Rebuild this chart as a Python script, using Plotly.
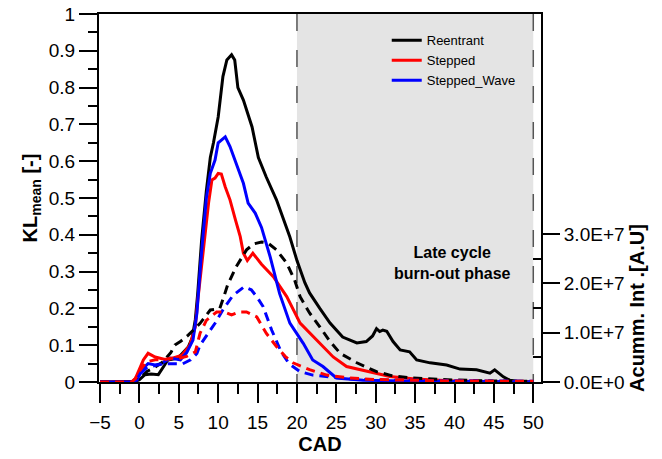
import plotly.graph_objects as go

# ---------------- data ----------------
# Solid lines: KL_mean [-] (left axis)
x_reentrant = [-5, -1, -0.5, 0, 0.7, 1.5, 2.4, 3.2, 3.6, 4.9, 5.5, 6.2, 6.7, 7.1, 7.4, 7.9, 8.5, 9.0, 9.4,
               10.0, 10.6, 11.1, 11.7, 12.1, 12.5, 13.2, 14.3, 15.1, 16.1, 17.4, 19.1, 20.0, 21.0, 21.6,
               22.9, 24.2, 25.8, 27.6, 28.8, 29.6, 30.1, 30.5, 30.9, 31.4, 32.2, 33.1, 34.3, 35.2, 36.9,
               39.0, 40.7, 42.8, 44.5, 45.1, 46.2, 47.0, 48.0, 50.0]
y_reentrant = [0, 0, 0.002, 0.006, 0.02, 0.022, 0.02, 0.046, 0.06, 0.065, 0.08, 0.095, 0.12, 0.17, 0.24,
               0.386, 0.52, 0.61, 0.65, 0.72, 0.83, 0.875, 0.889, 0.875, 0.80, 0.766, 0.693, 0.61, 0.557,
               0.495, 0.394, 0.33, 0.27, 0.242, 0.20, 0.16, 0.122, 0.106, 0.11, 0.125, 0.145, 0.137, 0.141,
               0.138, 0.11, 0.087, 0.082, 0.06, 0.052, 0.046, 0.035, 0.033, 0.024, 0.033, 0.014, 0.005,
               0.002, 0]

x_stepped = [-5, -1, -0.5, 0, 0.5, 1.1, 2.0, 3.5, 4.3, 5.4, 6.4, 7.1, 7.4, 7.9, 8.3, 8.8, 9.2, 9.6, 10.0,
             10.4, 10.9, 11.5, 12.2, 12.8, 13.2, 13.7, 14.4, 15.5, 17.0, 18.7, 20.4, 22.5, 24.6, 26.3,
             29.3, 31.8, 35.0, 40.0, 45.0, 50.0]
y_stepped = [0, 0, 0.01, 0.035, 0.06, 0.078, 0.068, 0.06, 0.065, 0.073, 0.10, 0.15, 0.22, 0.32, 0.386,
             0.49, 0.549, 0.554, 0.567, 0.565, 0.53, 0.495, 0.44, 0.395, 0.35, 0.33, 0.35, 0.32, 0.286,
             0.232, 0.16, 0.114, 0.068, 0.042, 0.028, 0.015, 0.008, 0.003, 0.001, 0]

x_wave = [-5, -1, -0.35, 0, 0.5, 1.1, 2.0, 2.8, 3.9, 5.2, 6.0, 6.8, 7.3, 7.8, 8.5, 9.0, 9.6, 10.0, 10.9,
          11.5, 12.3, 13.2, 13.8, 14.7, 15.5, 16.6, 17.8, 19.1, 20.8, 22.0, 23.3, 25.0, 28.4, 35.0, 50.0]
y_wave = [0, 0, 0.005, 0.02, 0.038, 0.05, 0.046, 0.05, 0.065, 0.06, 0.08, 0.114, 0.187, 0.33, 0.50,
          0.567, 0.603, 0.65, 0.666, 0.64, 0.595, 0.54, 0.486, 0.459, 0.42, 0.34, 0.24, 0.16, 0.105,
          0.06, 0.042, 0.011, 0.005, 0.002, 0]

# Dashed lines: accumulated intensity [A.U] (right axis)
x_acc_reentrant = [-5, -1, -0.5, 0, 1, 2, 3, 4, 4.5, 5.2, 6.2, 7.7, 9.0, 10.2, 10.7, 11.2, 12.3, 13.6,
                   14.5, 15.5, 16.3, 17.4, 18.7, 19.7, 20.4, 21.6, 22.9, 24.2, 25.5, 27.6, 30.1, 32.0,
                   34.7, 40.0, 45.0, 50.0]
y_acc_reentrant = [0, 0, 0.02e7, 0.07e7, 0.22e7, 0.30e7, 0.41e7, 0.60e7, 0.75e7, 0.82e7, 0.95e7, 1.19e7,
                   1.46e7, 1.49e7, 1.72e7, 1.97e7, 2.34e7, 2.68e7, 2.80e7, 2.84e7, 2.82e7, 2.68e7, 2.41e7,
                   2.07e7, 1.73e7, 1.40e7, 1.12e7, 0.82e7, 0.58e7, 0.39e7, 0.21e7, 0.13e7, 0.08e7,
                   0.04e7, 0.02e7, 0.015e7]

x_acc_stepped = [-5, -1, -0.5, 0, 0.9, 2, 3, 4, 5, 6, 7.1, 7.7, 8.5, 9.8, 10.8, 11.7, 12.7, 13.6, 14.9,
                 16.1, 17.4, 18.5, 19.5, 21.6, 23.8, 26.7, 30.0, 35.0, 40.0, 50.0]
y_acc_stepped = [0, 0, 0.07e7, 0.22e7, 0.41e7, 0.45e7, 0.45e7, 0.48e7, 0.48e7, 0.52e7, 0.61e7, 0.99e7,
                 1.25e7, 1.42e7, 1.42e7, 1.36e7, 1.42e7, 1.42e7, 1.32e7, 0.99e7, 0.72e7, 0.52e7, 0.39e7,
                 0.25e7, 0.14e7, 0.08e7, 0.05e7, 0.03e7, 0.02e7, 0.015e7]

x_acc_wave = [-5, -1, -0.3, 0, 1, 2, 3, 4, 5.5, 6.5, 7.3, 7.7, 8.6, 9.6, 10.7, 11.9, 13.3, 14.2, 14.9,
              15.7, 16.8, 18.0, 19.0, 20.4, 22.0, 24.2, 27.0, 30.0, 40.0, 50.0]
y_acc_wave = [0, 0, 0.04e7, 0.15e7, 0.30e7, 0.34e7, 0.37e7, 0.37e7, 0.37e7, 0.45e7, 0.58e7, 0.75e7,
              0.97e7, 1.19e7, 1.49e7, 1.76e7, 1.93e7, 1.87e7, 1.73e7, 1.53e7, 1.05e7, 0.61e7, 0.37e7,
              0.21e7, 0.14e7, 0.10e7, 0.06e7, 0.04e7, 0.02e7, 0.015e7]

names = ["Reentrant", "Stepped", "Stepped_Wave"]
colors = ["#000000", "#ff0000", "#0000ff"]

x_ticks = [-5, 0, 5, 10, 15, 20, 25, 30, 35, 40, 45, 50]
y2_ticks = [0, 1e7, 2e7, 3e7]
y2_ticktext = ["0.0E+0", "1.0E+7", "2.0E+7", "3.0E+7"]
phase_start, phase_end = 20, 50
phase_label = "<b>Late cycle<br>burn-out phase</b>"

FONT = "Arial, Liberation Sans, sans-serif"

fig = go.Figure()

# solid KL curves
for xs, ys, nm, c in zip([x_reentrant, x_stepped, x_wave], [y_reentrant, y_stepped, y_wave], names, colors):
    fig.add_trace(go.Scatter(x=xs, y=ys, name=nm, mode="lines",
                             line=dict(color=c, width=3), xaxis="x", yaxis="y"))

# dashed accumulated curves
for xs, ys, nm, c in zip([x_acc_reentrant, x_acc_wave, x_acc_stepped],
                         [y_acc_reentrant, y_acc_wave, y_acc_stepped],
                         [names[0], names[2], names[1]], [colors[0], colors[2], colors[1]]):
    fig.add_trace(go.Scatter(x=xs, y=ys, name=nm + " (acc.)", mode="lines", showlegend=False,
                             line=dict(color=c, width=3, dash="9px,6px"), xaxis="x", yaxis="y2"))

# shaded late-cycle region
fig.add_shape(type="rect", xref="x", yref="y", x0=phase_start, x1=phase_end, y0=0, y1=1,
              fillcolor="#e4e4e4", line=dict(width=0), layer="below")
for xv in (phase_start, phase_end):
    fig.add_shape(type="line", xref="x", yref="y", x0=xv, x1=xv, y0=1, y1=0,
                  line=dict(color="#555555", width=1.5, dash="17px,19px"), layer="below")

fig.add_annotation(x=39.8, y=0.323, xref="x", yref="y", text=phase_label, showarrow=False,
                   font=dict(family=FONT, size=16, color="black"), align="center")

axis_common = dict(showgrid=False, zeroline=False, linecolor="black", linewidth=2, automargin=False,
                   tickcolor="black", tickwidth=1.5, tickfont=dict(family=FONT, size=19, color="black"))

fig.update_layout(
    width=662, height=459,
    margin=dict(l=99, r=121, t=14, b=77, autoexpand=False),
    paper_bgcolor="white", plot_bgcolor="rgba(0,0,0,0)",
    font=dict(family=FONT, color="black"),
    showlegend=True,
    legend=dict(x=0.651, y=0.969, xanchor="left", yanchor="top", bgcolor="rgba(0,0,0,0)",
                font=dict(family=FONT, size=13, color="black"), tracegroupgap=0),
    xaxis=dict(range=[-5.13, 50.98], tickmode="array", tickvals=x_ticks, ticks="outside", ticklen=19,
               showline=True, mirror=True, anchor="y",
               minor=dict(ticks="outside", ticklen=10, dtick=2.5, tick0=0, tickcolor="black", tickwidth=1.5),
               title=dict(text="<b>CAD</b>", font=dict(family=FONT, size=20, color="black"), standoff=4),
               ticklabelstandoff=3,
               **axis_common),
    yaxis=dict(range=[0, 1.0], dtick=0.1, tick0=0, ticks="outside", ticklen=18, showline=True, mirror=True,
               anchor="x", domain=[0, 1],
               minor=dict(ticks="outside", ticklen=9, dtick=0.05, tick0=0, tickcolor="black", tickwidth=1.5),
               title=dict(text="<b>KL<sub>mean</sub> [-]</b>", font=dict(family=FONT, size=20, color="black"),
                          standoff=6),
               **axis_common),
    yaxis2=dict(range=[0, 3e7], domain=[0, 0.402], anchor="x", side="right", showline=False,
                tickmode="array", tickvals=y2_ticks, ticktext=y2_ticktext, ticks="outside", ticklen=18,
                minor=dict(tickmode="array", tickvals=[0.5e7, 1.5e7, 2.5e7], ticks="inside", ticklen=8,
                           tickcolor="black", tickwidth=1.5),
                title=dict(text="<b>Acumm. Int .[A.U]</b>", font=dict(family=FONT, size=20, color="black"),
                           standoff=6),
                **axis_common),
)

fig.write_html("out.html", config={"displayModeBar": False},
               post_script="document.body.style.margin='0';")
